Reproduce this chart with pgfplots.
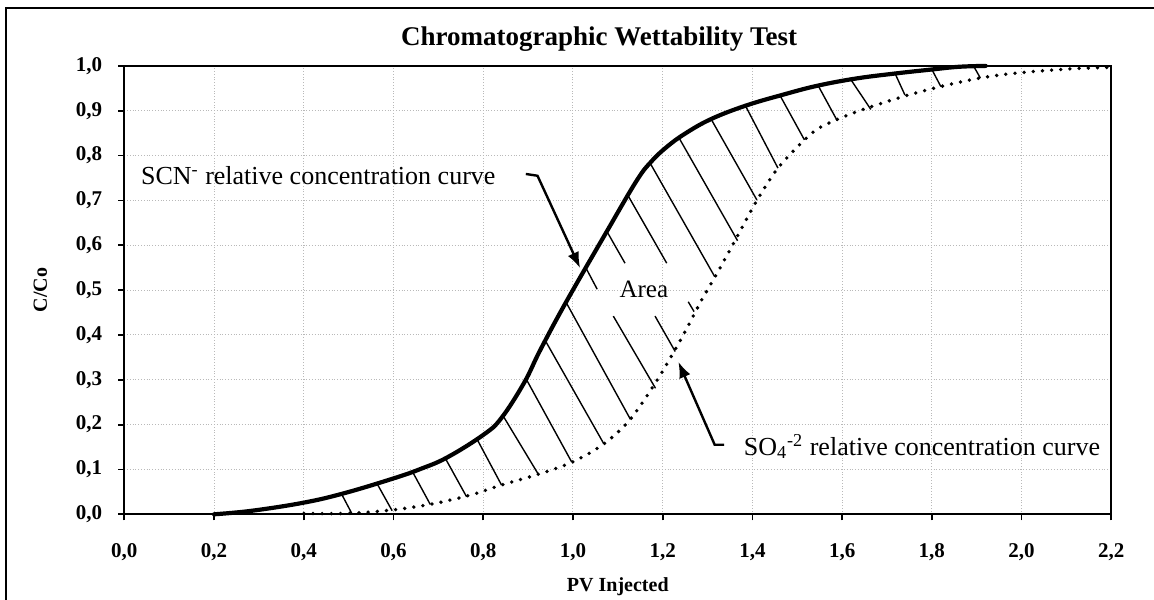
\documentclass[border=0pt]{standalone}
\usepackage{fontspec}
\setmainfont{Liberation Serif}
\usepackage{pgfplots}
\pgfplotsset{compat=1.18}
\usepackage{pgfplotstable}
\usetikzlibrary{arrows.meta}

% SCN- relative concentration (solid)
\pgfplotstableread{
x y
0.200 0.000
0.285 0.008
0.400 0.026
0.490 0.047
0.600 0.080
0.660 0.101
0.720 0.127
0.800 0.177
0.840 0.214
0.891 0.293
0.927 0.366
0.984 0.472
1.075 0.630
1.142 0.744
1.175 0.787
1.210 0.820
1.250 0.849
1.307 0.881
1.384 0.911
1.469 0.936
1.546 0.956
1.632 0.972
1.718 0.983
1.800 0.992
1.860 0.998
1.920 1.000
}\scn

% SO4-2 relative concentration (dotted)
\pgfplotstableread{
x y
0.400 0.002
0.500 0.002
0.600 0.010
0.686 0.023
0.772 0.043
0.840 0.065
0.925 0.090
1.000 0.117
1.069 0.157
1.128 0.212
1.190 0.303
1.246 0.400
1.287 0.478
1.317 0.530
1.354 0.597
1.410 0.700
1.457 0.772
1.516 0.835
1.555 0.865
1.633 0.898
1.737 0.932
1.820 0.954
1.908 0.973
1.989 0.984
2.101 0.993
2.200 0.997
}\sofour

% hatch segments between the curves
\pgfplotstableread{
x y
0.486 0.042
0.507 0.002
nan nan
0.563 0.069
0.597 0.008
nan nan
0.644 0.092
0.682 0.022
nan nan
0.716 0.124
0.763 0.039
nan nan
0.787 0.166
0.841 0.065
nan nan
0.844 0.220
0.923 0.089
nan nan
0.895 0.303
0.997 0.117
nan nan
0.938 0.388
1.069 0.157
nan nan
0.984 0.474
1.128 0.212
nan nan
1.027 0.553
1.054 0.502
nan nan
1.090 0.442
1.184 0.281
nan nan
1.075 0.632
1.116 0.560
nan nan
1.183 0.442
1.228 0.363
nan nan
1.121 0.714
1.209 0.560
nan nan
1.257 0.474
1.270 0.452
nan nan
1.171 0.785
1.316 0.530
nan nan
1.235 0.842
1.367 0.610
nan nan
1.307 0.883
1.410 0.701
nan nan
1.384 0.912
1.457 0.772
nan nan
1.461 0.935
1.516 0.835
nan nan
1.546 0.957
1.589 0.878
nan nan
1.617 0.973
1.664 0.903
nan nan
1.718 0.983
1.740 0.935
nan nan
1.800 0.992
1.820 0.954
nan nan
1.894 0.998
1.908 0.973
}\hatch

\begin{document}
\begin{tikzpicture}
\begin{axis}[
    at={(0,0)}, anchor=south west,
    scale only axis,
    width=493.5pt, height=224.2pt,
    xmin=0, xmax=2.2, ymin=0, ymax=1,
    xtick={0,0.2,0.4,0.6,0.8,1,1.2,1.4,1.6,1.8,2,2.2},
    ytick={0,0.1,0.2,0.3,0.4,0.5,0.6,0.7,0.8,0.9,1},
    tick pos=left, tick align=outside, major tick length=3pt,
    every tick/.style={black, line width=0.9pt},
    grid=major,
    major grid style={gray!55, densely dotted, line width=0.5pt},
    axis line style={black, line width=1.1pt},
    ticklabel style={font=\bfseries\fontsize{10.5}{12}\selectfont},
    xticklabel style={yshift=-8pt},
    yticklabel style={xshift=-4.5pt},
    /pgf/number format/use comma,
    /pgf/number format/fixed,
    /pgf/number format/fixed zerofill,
    /pgf/number format/precision=1,
    /pgf/number format/assume math mode=true,
    xlabel={PV Injected}, ylabel={C/Co},
    label style={font=\bfseries\fontsize{10}{12}\selectfont},
    xlabel style={at={(axis description cs:0.5,-0.1606)}, anchor=center},
    ylabel style={at={(axis description cs:-0.0851,0.5)}, anchor=center},
    title={Chromatographic Wettability Test},
    every axis title shift=0pt,
    title style={at={(axis description cs:0.481,1.06)}, anchor=center,
                 font=\bfseries\fontsize{13.5}{15}\selectfont},
    clip=false,
]
\addplot[black, line width=0.7pt, unbounded coords=jump] table {\hatch};
\addplot[black, line width=1.9pt, line cap=round, dash pattern=on 0pt off 4.6pt,
         smooth, tension=0.5] table {\sofour};
\addplot[black, line width=2.1pt, line cap=round, smooth, tension=0.65] table {\scn};

\draw[line width=1.2pt, -{Latex[length=8pt,width=6pt]}]
    (axis cs:0.895,0.759) -- (axis cs:0.921,0.755) -- (axis cs:1.016,0.549);
\draw[line width=1.2pt, -{Latex[length=8pt,width=6pt]}]
    (axis cs:1.337,0.155) -- (axis cs:1.316,0.155) -- (axis cs:1.235,0.340);

\node[anchor=base west, inner sep=0, font=\fontsize{13}{15}\selectfont]
    at (axis cs:0.0366,0.736) {SCN\textsuperscript{-} relative concentration curve};
\node[anchor=base west, inner sep=0, font=\fontsize{13}{15}\selectfont]
    at (axis cs:1.380,0.132) {SO\textsubscript{4}\textsuperscript{-2} relative concentration curve};
\node[font=\fontsize{12.5}{15}\selectfont] at (axis cs:1.158,0.502) {Area};
\end{axis}
\pgfresetboundingbox
\path[use as bounding box] (-62.15pt,-42.35pt) rectangle (514.85pt,257.15pt);
\draw[line width=1pt] (-58.9pt,-60pt) rectangle (530pt,253.15pt);
\end{tikzpicture}
\end{document}
